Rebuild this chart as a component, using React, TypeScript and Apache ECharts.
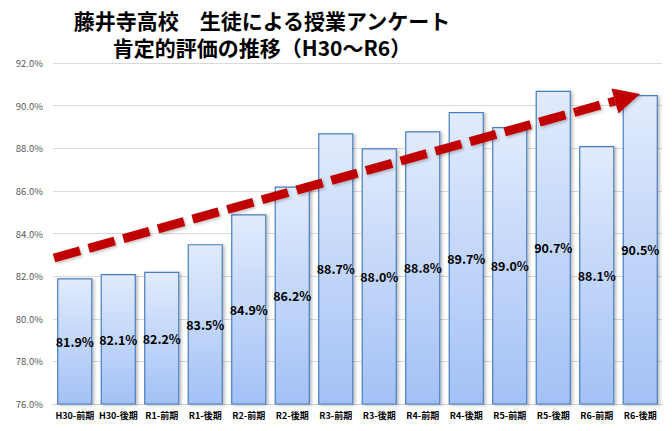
import React, { useEffect, useRef } from "react";
import * as echarts from "echarts";

const categories = [
  "H30-前期", "H30-後期", "R1-前期", "R1-後期", "R2-前期", "R2-後期", "R3-前期",
  "R3-後期", "R4-前期", "R4-後期", "R5-前期", "R5-後期", "R6-前期", "R6-後期",
];
const values = [81.9, 82.1, 82.2, 83.5, 84.9, 86.2, 88.7, 88.0, 88.8, 89.7, 89.0, 90.7, 88.1, 90.5];
const titleLines = ["藤井寺高校　生徒による授業アンケート", "肯定的評価の推移（H30～R6）"];
const yMin = 76;
const yMax = 92;
const yInterval = 2;

const FONT = "'Noto Sans CJK JP', 'Noto Sans', sans-serif";

export default function App() {
  const ref = useRef<HTMLDivElement>(null);
  useEffect(() => {
    document.body.style.margin = "0";
    const chart = echarts.init(ref.current!, null, { renderer: "svg" });
    const tip = [640, 94];
    const start = [54, 258];
    const dx = tip[0] - start[0];
    const dy = tip[1] - start[1];
    const len = Math.sqrt(dx * dx + dy * dy);
    const ux = dx / len, uy = dy / len;
    const headLen = 26, headHalf = 13;
    const bx = tip[0] - headLen * ux, by = tip[1] - headLen * uy;
    const nx = -uy, ny = ux;
    chart.setOption({
      animation: false,
      backgroundColor: "#ffffff",
      title: [
        {
          text: titleLines[0],
          left: 257,
          top: 4,
          textAlign: "center",
          textStyle: { fontSize: 21, fontWeight: "bold", color: "#000", fontFamily: FONT },
        },
        {
          text: titleLines[1],
          left: 257,
          top: 31,
          textAlign: "center",
          textStyle: { fontSize: 21, fontWeight: "bold", color: "#000", fontFamily: FONT },
        },
      ],
      grid: { left: 53, right: 10, top: 63, bottom: 27, containLabel: false },
      xAxis: {
        type: "category",
        data: categories,
        axisLine: { lineStyle: { color: "#d0d0d0", width: 1 } },
        axisTick: { show: false },
        axisLabel: {
          interval: 0,
          fontSize: 9,
          fontWeight: "bold",
          color: "#000",
          fontFamily: FONT,
          margin: 7,
        },
      },
      yAxis: {
        type: "value",
        min: yMin,
        max: yMax,
        interval: yInterval,
        axisLine: { show: false },
        axisTick: { show: false },
        splitLine: { lineStyle: { color: "#d9d9d9", width: 1 } },
        axisLabel: {
          fontSize: 9.5,
          color: "#595959",
          fontFamily: FONT,
          margin: 10,
          formatter: (v: number) => v.toFixed(1) + "%",
        },
      },
      series: [
        {
          type: "bar",
          data: values,
          barWidth: "81%",
          itemStyle: {
            color: new echarts.graphic.LinearGradient(0, 0, 0, 1, [
              { offset: 0, color: "#e1ebfc" },
              { offset: 1, color: "#a3c1f6" },
            ]),
            borderColor: "#4a7ec2",
            borderWidth: 1.2,
            shadowColor: "rgba(0,0,0,0.25)",
            shadowBlur: 3,
            shadowOffsetX: 2,
            shadowOffsetY: 1,
          },
          label: {
            show: true,
            position: "inside",
            fontSize: 12.5,
            fontWeight: "bold",
            color: "#000",
            fontFamily: FONT,
            formatter: (p: any) => p.value.toFixed(1) + "%",
          },
        },
      ],
      graphic: [
        {
          type: "line",
          shape: { x1: start[0], y1: start[1], x2: bx, y2: by },
          style: {
            stroke: "#c00000",
            lineWidth: 9,
            lineDash: [27, 9],
            lineCap: "butt",
            shadowColor: "rgba(0,0,0,0.25)",
            shadowBlur: 3,
            shadowOffsetX: 1.5,
            shadowOffsetY: 1.5,
          },
          z: 100,
        },
        {
          type: "polygon",
          shape: {
            points: [
              [tip[0], tip[1]],
              [bx + nx * headHalf, by + ny * headHalf],
              [bx - nx * headHalf, by - ny * headHalf],
            ],
          },
          style: {
            fill: "#c00000",
            shadowColor: "rgba(0,0,0,0.25)",
            shadowBlur: 3,
            shadowOffsetX: 1.5,
            shadowOffsetY: 1.5,
          },
          z: 100,
        },
      ],
    });
    return () => chart.dispose();
  }, []);
  return <div ref={ref} style={{ width: 672, height: 431 }} />;
}
